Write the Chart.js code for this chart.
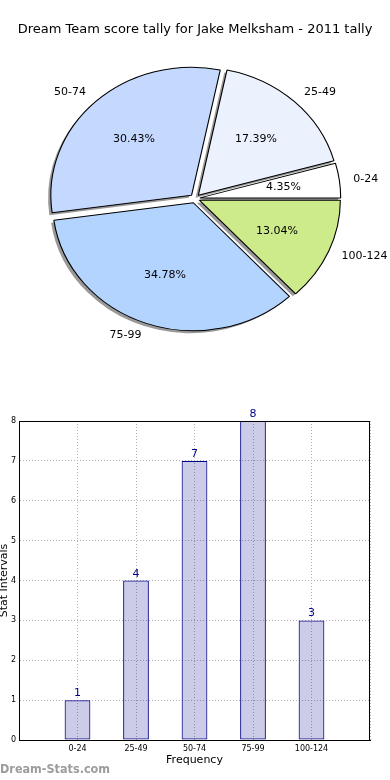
<!DOCTYPE html>
<html>
<head>
<meta charset="utf-8">
<script src="https://cdn.jsdelivr.net/npm/chart.js@4.4.0/dist/chart.umd.min.js"></script>
<style>
  html, body { margin: 0; padding: 0; background: #fff; }
  #wrap { position: relative; width: 390px; height: 780px; overflow: hidden; }
  #pieChart { position: absolute; left: 0; top: 0; }
  #barChart { position: absolute; left: 0; top: 395px; }
  #brand { position: absolute; left: 0; top: 761px; font: bold 12.5px "DejaVu Sans Condensed", "DejaVu Sans", sans-serif; color: #9c9c9c; }
</style>
</head>
<body>
<div id="wrap">
  <canvas id="pieChart" width="390" height="395"></canvas>
  <canvas id="barChart" width="390" height="385"></canvas>
  <div id="brand">Dream-Stats.com</div>
</div>
<script>
// data
const chartTitle = 'Dream Team score tally for Jake Melksham - 2011 tally';
const categories = ['0-24', '25-49', '50-74', '75-99', '100-124'];
const counts = [1, 4, 7, 8, 3];
const yMax = 8;

const sliceColors = ['#ffffff', '#ebf2fe', '#c5d8fe', '#b3d4fe', '#cdeb8b'];
const font = 'DejaVu Sans';

// matplotlib draws the pie counter-clockwise from 3 o'clock, chart.js clockwise,
// so feed the slices in reverse order
const pieLabels = categories.slice().reverse();
const pieValues = counts.slice().reverse();
const pieColors = sliceColors.slice().reverse();

const stretchX = 1.1;   // the pie is an ellipse in the original (no equal aspect)
const explodePx = 4.5;
const shadowPx = 2.5;

const pieLook = {
    id: 'pieLook',
    afterDatasetsUpdate(chart) {
        const {left, right, top, bottom} = chart.chartArea;
        const cx = (left + right) / 2, cy = (top + bottom) / 2;
        chart.getDatasetMeta(0).data.forEach(arc => {
            const mid = (arc.startAngle + arc.endAngle) / 2;
            arc.x = cx + Math.cos(mid) * explodePx;
            arc.y = cy + Math.sin(mid) * explodePx;
        });
    },
    beforeDatasetsDraw(chart) {
        const ctx = chart.ctx;
        const {left, right, top, bottom} = chart.chartArea;
        const cx = (left + right) / 2, cy = (top + bottom) / 2;
        ctx.save();
        ctx.translate(cx, cy);
        ctx.scale(stretchX, 1);
        ctx.translate(-cx, -cy);
        // shadows go under every wedge
        chart.getDatasetMeta(0).data.forEach(arc => {
            const x = arc.x - shadowPx, y = arc.y + shadowPx;
            ctx.beginPath();
            ctx.moveTo(x, y);
            ctx.arc(x, y, arc.outerRadius, arc.startAngle, arc.endAngle);
            ctx.closePath();
            ctx.fillStyle = '#999999';
            ctx.fill();
        });
    },
    afterDatasetsDraw(chart) {
        const ctx = chart.ctx;
        ctx.restore();
        const {left, right, top, bottom} = chart.chartArea;
        const cx = (left + right) / 2;
        const values = chart.data.datasets[0].data;
        const total = values.reduce((s, v) => s + v, 0);
        ctx.save();
        ctx.fillStyle = '#000';
        ctx.font = '11px "' + font + '"';
        ctx.textBaseline = 'middle';
        chart.getDatasetMeta(0).data.forEach((arc, i) => {
            const mid = (arc.startAngle + arc.endAngle) / 2;
            const r = arc.outerRadius;
            const at = k => [
                cx + stretchX * (arc.x - cx + k * r * Math.cos(mid)),
                arc.y + k * r * Math.sin(mid)
            ];
            const [px, py] = at(0.6);
            ctx.textAlign = 'center';
            ctx.fillText((values[i] / total * 100).toFixed(2) + '%', px, py);
            const [lx, ly] = at(1.1);
            ctx.textAlign = Math.cos(mid) > 0 ? 'left' : 'right';
            ctx.fillText(chart.data.labels[i], lx, ly);
        });
        ctx.restore();
    }
};

new Chart(document.getElementById('pieChart'), {
    type: 'pie',
    data: {
        labels: pieLabels,
        datasets: [{
            data: pieValues,
            backgroundColor: pieColors,
            borderColor: '#000',
            borderWidth: 1,
            radius: 128
        }]
    },
    options: {
        responsive: false,
        animation: false,
        events: [],
        rotation: 90,
        layout: { padding: { bottom: 35.6 } },
        plugins: {
            legend: { display: false },
            tooltip: { enabled: false },
            title: {
                display: true,
                text: chartTitle,
                color: '#000',
                font: { family: font, size: 13, weight: 'normal' },
                padding: { top: 22, bottom: 0 }
            }
        }
    },
    plugins: [pieLook]
});

// bar chart: box round the axes and the counts above the bars
const barLook = {
    id: 'barLook',
    afterDatasetsDraw(chart) {
        const ctx = chart.ctx;
        const {left, right, top, bottom} = chart.chartArea;
        ctx.save();
        ctx.strokeStyle = '#000';
        ctx.lineWidth = 1;
        ctx.strokeRect(Math.round(left) + 0.5, Math.round(top) + 0.5,
            Math.round(right) - Math.round(left) - 1, Math.round(bottom) - Math.round(top));
        ctx.fillStyle = '#00008b';
        ctx.font = '11px "' + font + '"';
        ctx.textAlign = 'center';
        ctx.textBaseline = 'alphabetic';
        chart.getDatasetMeta(0).data.forEach((bar, i) => {
            ctx.fillText(String(counts[i]), bar.x, bar.y - 4);
        });
        ctx.restore();
    }
};

const tickFont = { family: font, size: 8 };

new Chart(document.getElementById('barChart'), {
    type: 'bar',
    data: {
        datasets: [{
            data: categories.map((c, i) => ({ x: i + 1, y: counts[i] })),
            backgroundColor: 'rgba(0, 0, 139, 0.2)',
            borderColor: '#00008b',
            borderWidth: 1,
            borderSkipped: false,
            barPercentage: 0.44,
            categoryPercentage: 1
        }]
    },
    options: {
        responsive: false,
        animation: false,
        events: [],
        layout: { padding: { top: 26, right: 20, left: 0, bottom: 0 } },
        plugins: {
            legend: { display: false },
            tooltip: { enabled: false }
        },
        scales: {
            x: {
                type: 'linear',
                offset: false,
                min: 0,
                max: categories.length + 1,
                afterFit: s => { s.height = 40; },
                ticks: {
                    stepSize: 1,
                    autoSkip: false,
                    maxRotation: 0,
                    padding: 4,
                    color: '#000',
                    font: tickFont,
                    callback: v => categories[v - 1] || ''
                },
                grid: { color: '#b0b0b0', drawTicks: false, offset: false },
                border: { display: true, color: '#000', dash: [1, 2] },
                title: {
                    display: true,
                    text: 'Frequency',
                    color: '#000',
                    font: { family: font, size: 11 },
                    padding: { top: 0, bottom: 13.4 }
                }
            },
            y: {
                min: 0,
                max: yMax,
                afterFit: s => { s.width = 19; },
                ticks: { stepSize: 1, padding: 3, color: '#000', font: tickFont },
                grid: { color: '#b0b0b0', drawTicks: false },
                border: { display: true, color: '#000', dash: [1, 2] },
                title: {
                    display: true,
                    text: 'Stat Intervals',
                    color: '#000',
                    font: { family: font, size: 11 },
                    padding: { top: -2, bottom: 0 }
                }
            }
        }
    },
    plugins: [barLook]
});
</script>
</body>
</html>
